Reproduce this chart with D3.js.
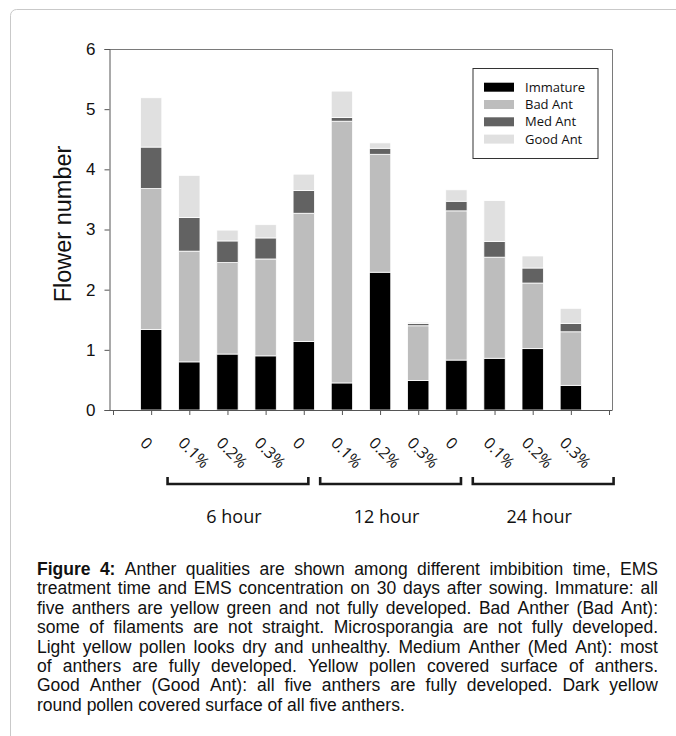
<!DOCTYPE html>
<html>
<head>
<meta charset="utf-8">
<script src="https://cdn.jsdelivr.net/npm/d3@7"></script>
<style>
  body { margin: 0; background: #fff; }
  svg { display: block; }
</style>
</head>
<body>
<div id="chart"></div>
<script>
// concentration labels under each bar, and the treatment-time groups
const concentrations = ["0", "0.1%", "0.2%", "0.3%", "0", "0.1%", "0.2%", "0.3%", "0", "0.1%", "0.2%", "0.3%"];
const groupNames = ["6 hour", "12 hour", "24 hour"];
const groupFirst = [1, 5, 9];   // first bar slot of each group
const groupLast = [4, 8, 12];   // last bar slot of each group

// anther qualities (flower number per class), stacked bottom to top
const seriesNames = ["Immature", "Bad Ant", "Med Ant", "Good Ant"];
const immature = [1.34, 0.80, 0.93, 0.90, 1.14, 0.45, 2.29, 0.49, 0.83, 0.86, 1.02, 0.41];
const badAnt   = [2.34, 1.84, 1.52, 1.61, 2.13, 4.35, 1.96, 0.91, 2.48, 1.68, 1.09, 0.89];
const medAnt   = [0.69, 0.56, 0.36, 0.35, 0.38, 0.06, 0.10, 0.04, 0.16, 0.26, 0.25, 0.14];
const goodAnt  = [0.82, 0.70, 0.18, 0.22, 0.27, 0.44, 0.09, 0.02, 0.19, 0.68, 0.20, 0.25];
const seriesColors = ["#000000", "#bdbdbd", "#626262", "#e0e0e0"];

const yTicks = [0, 1, 2, 3, 4, 5, 6];

const captionLines = [
    "Figure 4: Anther qualities are shown among different imbibition time, EMS",
    "treatment time and EMS concentration on 30 days after sowing. Immature: all",
    "five anthers are yellow green and not fully developed. Bad Anther (Bad Ant):",
    "some of filaments are not straight. Microsporangia are not fully developed.",
    "Light yellow pollen looks dry and unhealthy. Medium Anther (Med Ant): most",
    "of anthers are fully developed. Yellow pollen covered surface of anthers.",
    "Good Anther (Good Ant): all five anthers are fully developed. Dark yellow",
    "round pollen covered surface of all five anthers."
];
const captionBold = "Figure 4:";

(function () {
    const width = 676, height = 736;
    const plotLeft = 109.5, plotRight = 612, plotTop = 49, plotBottom = 410;

    const svg = d3.select('#chart').append('svg')
        .attr('width', width)
        .attr('height', height);

    // light frame of the figure panel
    svg.append('rect')
        .attr('x', 10.5).attr('y', 9.5)
        .attr('width', 720).attr('height', 800)
        .attr('rx', 6)
        .attr('fill', 'none')
        .attr('stroke', '#c9c9c9');

    const x = d3.scaleLinear().domain([0, 13]).range([113, 609]);
    const y = d3.scaleLinear().domain([0, 6]).range([plotBottom, plotTop]);
    const step = x(1) - x(0);
    const barWidth = step * 0.56;

    // data table for the stack
    const table = concentrations.map(function (c, i) {
        return {
            slot: i + 1,
            "Immature": immature[i],
            "Bad Ant": badAnt[i],
            "Med Ant": medAnt[i],
            "Good Ant": goodAnt[i]
        };
    });
    const stacked = d3.stack().keys(seriesNames)(table);

    // plot frame (top and right sides)
    svg.append('path')
        .attr('d', `M${plotLeft},${plotTop + 0.5}H${plotRight + 0.5}V${plotBottom}`)
        .attr('fill', 'none')
        .attr('stroke', '#7a7a7a');

    // bars
    const layers = svg.append('g').selectAll('g').data(stacked)
        .enter().append('g')
        .attr('fill', function (d, i) { return seriesColors[i]; });

    layers.selectAll('rect').data(function (d) { return d; })
        .enter().append('rect')
        .attr('x', function (d) { return x(d.data.slot) - barWidth / 2; })
        .attr('y', function (d) { return y(d[1]); })
        .attr('width', barWidth)
        .attr('height', function (d) { return y(d[0]) - y(d[1]); })
        .attr('stroke', '#ffffff')
        .attr('stroke-width', 0.8);

    // y axis
    const yAxis = d3.axisLeft(y).tickValues(yTicks).tickFormat(d3.format('d'))
        .tickSize(5).tickPadding(9);
    const yg = svg.append('g')
        .attr('transform', `translate(${plotLeft},0)`)
        .call(yAxis);
    yg.select('.domain').attr('stroke', '#555');
    yg.selectAll('.tick line').attr('stroke', '#555');
    yg.selectAll('.tick text')
        .attr('font-family', 'Liberation Sans, Arial, sans-serif')
        .attr('font-size', 17)
        .attr('fill', '#111');

    // x axis: ticks only, line drawn across the plot width
    const xAxis = d3.axisBottom(x).tickValues(d3.range(0, 14)).tickSize(5).tickFormat('');
    const xg = svg.append('g')
        .attr('transform', `translate(0,${plotBottom})`)
        .call(xAxis);
    xg.select('.domain').remove();
    xg.selectAll('.tick line').attr('stroke', '#555');
    xg.append('line')
        .attr('x1', plotLeft).attr('x2', plotRight + 0.5)
        .attr('y1', 0.5).attr('y2', 0.5)
        .attr('stroke', '#555');

    // y axis title
    svg.append('text')
        .attr('transform', 'translate(71,224) rotate(-90)')
        .attr('text-anchor', 'middle')
        .attr('font-family', 'Liberation Sans, Arial, sans-serif')
        .attr('font-size', 23.5)
        .attr('fill', '#111')
        .text('Flower number');

    // rotated concentration labels
    svg.append('g').selectAll('text').data(concentrations)
        .enter().append('text')
        .attr('transform', function (d, i) {
            return `translate(${x(i + 1) - 12},444) rotate(45)`;
        })
        .attr('font-family', 'Open Sans, sans-serif')
        .attr('font-size', 16)
        .attr('fill', '#111')
        .text(function (d) { return d; });

    // group brackets and names
    const brackets = svg.append('g');
    groupNames.forEach(function (name, i) {
        var x0 = x(groupFirst[i] + 0.43);
        var x1 = x(groupLast[i] + 1.12);
        brackets.append('path')
            .attr('d', `M${x0},477V484H${x1}V477`)
            .attr('fill', 'none')
            .attr('stroke', '#1a1a1a')
            .attr('stroke-width', 2.6);
        brackets.append('text')
            .attr('x', (x0 + x1) / 2 - 4)
            .attr('y', 523)
            .attr('text-anchor', 'middle')
            .attr('font-family', 'Open Sans, sans-serif')
            .attr('font-size', 18)
            .attr('fill', '#111')
            .text(name);
    });

    // legend
    const legend = svg.append('g').attr('transform', 'translate(473,68.5)');
    legend.append('rect')
        .attr('width', 125).attr('height', 90)
        .attr('fill', '#fff')
        .attr('stroke', '#333');
    const items = legend.selectAll('.item').data(seriesNames)
        .enter().append('g')
        .attr('transform', function (d, i) { return `translate(0,${18.7 + i * 17.3})`; });
    items.append('rect')
        .attr('x', 11).attr('y', -4.5)
        .attr('width', 30).attr('height', 9)
        .attr('fill', function (d, i) { return seriesColors[i]; });
    items.append('text')
        .attr('x', 52).attr('y', 0)
        .attr('dy', '0.35em')
        .attr('font-family', 'Open Sans, sans-serif')
        .attr('font-size', 13)
        .attr('fill', '#111')
        .text(function (d) { return d; });

    // justified caption
    const capLeft = 37, capWidth = 621, capTop = 575, capLead = 19.4, capSize = 17.5;
    const capFont = 'Liberation Sans, Arial, sans-serif';
    const probe = svg.append('text')
        .attr('font-family', capFont)
        .attr('font-size', capSize)
        .attr('visibility', 'hidden');
    function wordWidth(w, bold) {
        probe.attr('font-weight', bold ? 'bold' : 'normal').text(w);
        return probe.node().getComputedTextLength();
    }

    const caption = svg.append('g');
    captionLines.forEach(function (line, li) {
        var words = line.split(' ');
        var boldCount = li === 0 ? captionBold.split(' ').length : 0;
        var widths = words.map(function (w, k) { return wordWidth(w, k < boldCount); });
        var total = d3.sum(widths);
        var last = li === captionLines.length - 1;
        var gap = last ? capSize * 0.278
                       : (capWidth - total) / (words.length - 1);
        var squeeze = 1;
        if (!last && gap < 3.5) {
            gap = 3.5;
            squeeze = capWidth / (total + gap * (words.length - 1));
        }
        var lg = caption.append('g')
            .attr('transform', `translate(${capLeft},${capTop + li * capLead}) scale(${squeeze},1)`);
        var pos = 0;
        words.forEach(function (w, k) {
            lg.append('text')
                .attr('x', pos)
                .attr('font-family', capFont)
                .attr('font-size', capSize)
                .attr('font-weight', k < boldCount ? 'bold' : 'normal')
                .attr('fill', '#111')
                .text(w);
            pos += widths[k] + gap;
        });
    });
    probe.remove();
})();
</script>
</body>
</html>
